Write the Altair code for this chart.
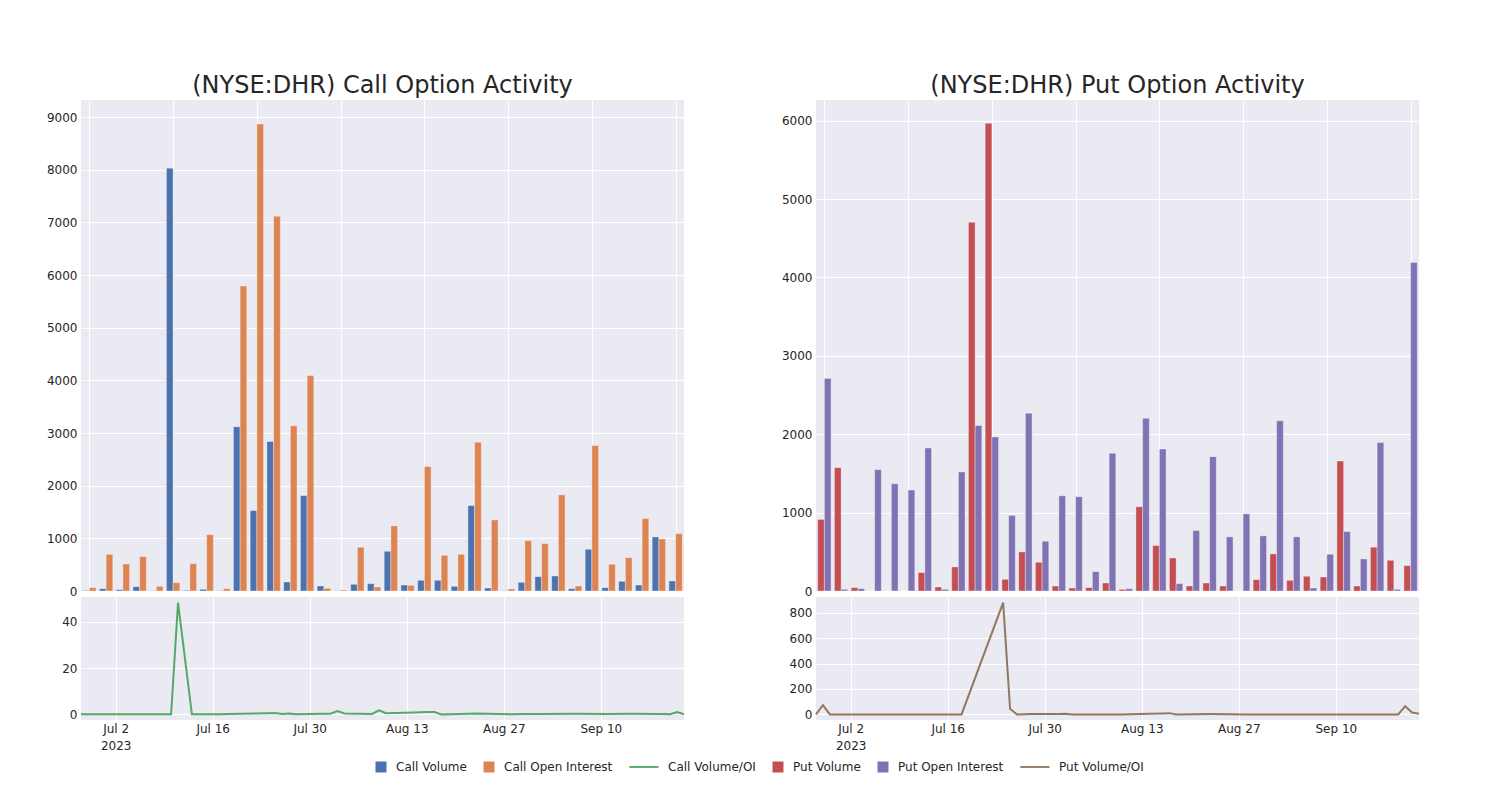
import altair as alt
import pandas as pd

# ---------------- data ----------------
dates = ["2023-06-27", "2023-06-28", "2023-06-29", "2023-07-06", "2023-07-10", "2023-07-11",
         "2023-07-13", "2023-07-17", "2023-07-18", "2023-07-24", "2023-07-25", "2023-07-26",
         "2023-07-27", "2023-07-28", "2023-08-01", "2023-08-02", "2023-08-03", "2023-08-04",
         "2023-08-08", "2023-08-09", "2023-08-10", "2023-08-14", "2023-08-16", "2023-08-17",
         "2023-08-18", "2023-08-23", "2023-08-28", "2023-08-30", "2023-09-01", "2023-09-06",
         "2023-09-11", "2023-09-14", "2023-09-19", "2023-09-20", "2023-09-21", "2023-09-22"]

call_volume = [10, 44, 25, 82, 6, 8029, 13, 32, 6, 3118, 1527, 2839, 171, 1812, 95, 6, 127, 139,
               754, 114, 203, 203, 89, 1622, 57, 6, 165, 272, 285, 44, 792, 63, 184, 114, 1027, 190]
call_oi = [63, 697, 513, 653, 89, 158, 520, 1071, 44, 5792, 8866, 7117, 3137, 4094, 51, 19, 830, 76,
           1236, 108, 2364, 678, 697, 2826, 1350, 38, 957, 900, 1825, 95, 2763, 507, 634, 1375, 989, 1090]
put_volume = [913, 1574, 43, 0, 0, 0, 235, 51, 307, 4704, 5966, 149, 499, 367, 64, 38, 43, 102,
              21, 1075, 580, 422, 64, 102, 64, 0, 145, 473, 136, 188, 179, 1659, 64, 559, 392, 324]
put_oi = [2712, 21, 30, 1548, 1369, 1288, 1825, 21, 1518, 2111, 1966, 964, 2269, 635, 1215, 1203, 247, 1757,
          30, 2205, 1812, 94, 772, 1714, 691, 985, 704, 2171, 691, 38, 469, 759, 409, 1893, 21, 4192]
call_ratio = [0.1, 0.05, 0.05, 0.1, 0.05, 48.2, 0.05, 0.1, 0.2, 0.5, 0.6, 0.2, 0.4, 0.1, 0.3, 0.3, 1.5, 0.4,
              0.2, 1.8, 0.5, 0.8, 1.0, 1.0, 0.0, 0.4, 0.1, 0.2, 0.2, 0.3, 0.2, 0.3, 0.2, 0.1, 1.0, 0.1]
put_ratio = [0, 72, 0, 0, 0, 0, 0, 0, 0, 880, 45, 0, 2, 3, 4, 5, 0, 0,
             0, 0, 0, 5, 8, 10, 0, 3, 0, 0, 0, 0, 0, 0, 0, 65, 15, 5]

series_names = ["Call Volume", "Call Open Interest", "Call Volume/OI",
                "Put Volume", "Put Open Interest", "Put Volume/OI"]
series_colors = ["#4C72B0", "#DD8452", "#55A868", "#C44E52", "#8172B3", "#937860"]

# ---------------- tables ----------------
idx = list(range(len(dates)))

def bars_table(vol, oi, vname, oname):
    a = pd.DataFrame({"i": idx, "value": vol, "series": vname, "kind": "vol"})
    b = pd.DataFrame({"i": idx, "value": oi, "series": oname, "kind": "oi"})
    return pd.concat([a, b], ignore_index=True)

call_bars = bars_table(call_volume, call_oi, "Call Volume", "Call Open Interest")
put_bars = bars_table(put_volume, put_oi, "Put Volume", "Put Open Interest")
call_line = pd.DataFrame({"date": dates, "value": call_ratio, "series": "Call Volume/OI"})
put_line = pd.DataFrame({"date": dates, "value": put_ratio, "series": "Put Volume/OI"})

FONT = "DejaVu Sans"
TXT = "#262626"

SQUARE_PATH = "M-1,-1H1V1H-1Z"
LINE_PATH = "M-4.3,-0.17H1V0.17H-4.3Z"
is_line = "indexof(datum.value, '/OI') >= 0"
legend = alt.Legend(
    title=None, orient="none", direction="horizontal", legendX=294, legendY=661,
    columnPadding=16, symbolSize=121, labelFontSize=12, labelFont=FONT,
    labelColor=TXT, labelOffset=9, symbolStrokeWidth=0, symbolOpacity=1,
    symbolType=alt.ExprRef(f"{is_line} ? '{LINE_PATH}' : '{SQUARE_PATH}'"),
)
color_scale = alt.Scale(domain=series_names, range=series_colors)

W = 603
H_TOP = 491
H_BOT = 123


def bar_panel(df, ymax, yticks, title):
    return alt.Chart(df).transform_calculate(
        x0="datum.i + (datum.kind == 'vol' ? -0.4 : 0)",
        x1="datum.i + (datum.kind == 'vol' ? 0 : 0.4)",
        y0="0",
    ).mark_rect(stroke="white", strokeWidth=0.6, strokeOpacity=0.6).encode(
        x=alt.X("x0:Q", scale=alt.Scale(domain=[-0.5, len(dates) - 0.5], nice=False, zero=False),
                axis=alt.Axis(values=list(range(0, len(dates), 5)), labels=False, ticks=False,
                              domain=False, title=None)),
        x2="x1:Q",
        y=alt.Y("value:Q", scale=alt.Scale(domain=[0, ymax], nice=False),
                axis=alt.Axis(values=yticks, title=None, ticks=False, domain=False, format="d")),
        y2="y0:Q",
        color=alt.Color("series:N", scale=color_scale, legend=legend),
    ).properties(
        width=W, height=H_TOP,
        title=alt.TitleParams(title, font=FONT, fontSize=24, fontWeight="normal", color=TXT,
                              anchor="middle", frame="group", offset=2),
    )


tick_dates = [alt.DateTime(year=2023, month=m, date=d, utc=True)
              for m, d in [(7, 2), (7, 16), (7, 30), (8, 13), (8, 27), (9, 10)]]
x_dom = [alt.DateTime(year=2023, month=6, date=27, utc=True),
         alt.DateTime(year=2023, month=9, date=22, utc=True)]
label_expr = ("utcFormat(datum.value, '%b %-d') == 'Jul 2' ? ['Jul 2', '2023'] : "
              "utcFormat(datum.value, '%b %-d')")


def line_panel(df, ydom, yticks):
    return alt.Chart(df).mark_line(strokeWidth=2).encode(
        x=alt.X("date:T", scale=alt.Scale(type="utc", domain=x_dom, nice=False),
                axis=alt.Axis(values=tick_dates, labelExpr=label_expr, title=None,
                              ticks=False, domain=False, labelPadding=3, labelLineHeight=17)),
        y=alt.Y("value:Q", scale=alt.Scale(domain=ydom, nice=False, zero=False),
                axis=alt.Axis(values=yticks, title=None, ticks=False, domain=False, format="d")),
        color=alt.Color("series:N", scale=color_scale, legend=legend),
    ).properties(width=W, height=H_BOT)


left = alt.vconcat(
    bar_panel(call_bars, 9323, list(range(0, 9001, 1000)), "(NYSE:DHR) Call Option Activity"),
    line_panel(call_line, [-2.4, 50.6], [0, 20, 40]),
    spacing=0,
)
right = alt.vconcat(
    bar_panel(put_bars, 6264, list(range(0, 6001, 1000)), "(NYSE:DHR) Put Option Activity"),
    line_panel(put_line, [-44, 924], [0, 200, 400, 600, 800]),
    spacing=0,
)

chart = alt.hconcat(left, right, spacing=93).resolve_scale(
    color="shared"
).resolve_legend(color="shared").properties(
    padding={"left": 38, "top": 66, "right": 20, "bottom": 10},
    background="white",
).configure_view(
    fill="#EAEAF2", stroke=None
).configure_axis(
    gridColor="white", gridWidth=1, gridOpacity=1,
    labelFont=FONT, labelFontSize=12, labelColor=TXT, labelPadding=4,
)

chart.save("out.html", embed_options={"renderer": "svg", "actions": False})
